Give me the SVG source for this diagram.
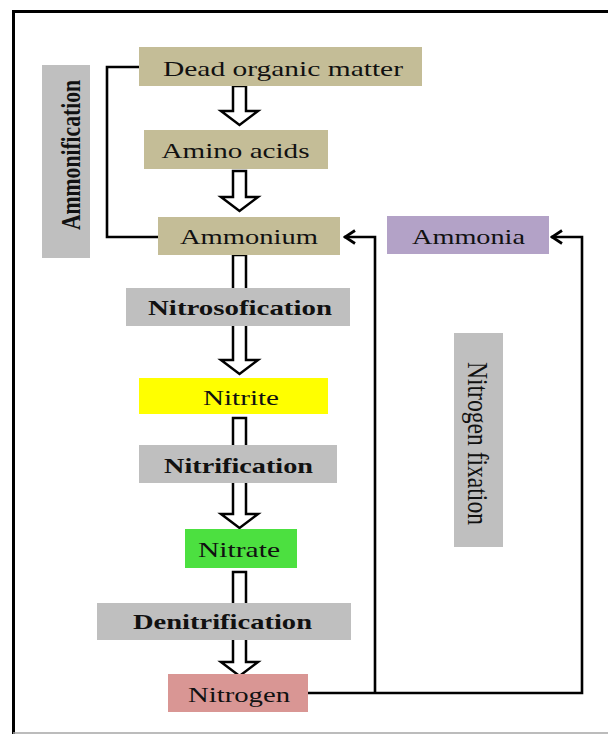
<svg xmlns="http://www.w3.org/2000/svg" width="608" height="734" viewBox="0 0 608 734">
<defs>
<style>
.lbl{font-family:"Liberation Serif","Times New Roman",serif;font-size:22px;fill:#111;text-anchor:middle}
.b{font-weight:bold;font-size:21px}
.tan{fill:#C4BD97}
.gray{fill:#BFBFBF}
.conn{fill:none;stroke:#000;stroke-width:2.6}
.big{fill:#fff;stroke:#000;stroke-width:2.5;stroke-linejoin:miter}
</style>
<marker id="chev" markerUnits="userSpaceOnUse" viewBox="0 0 14 16" refX="13" refY="8" markerWidth="14" markerHeight="16" orient="auto">
<path d="M2,1.5 L12,8 L2,14.5" fill="none" stroke="#000" stroke-width="2.8"/>
</marker>
</defs>
<rect width="608" height="734" fill="#fff"/>
<g id="frame">
<line x1="12" y1="11.5" x2="608" y2="11.5" stroke="#000" stroke-width="3"/>
<line x1="13.5" y1="10" x2="13.5" y2="734" stroke="#000" stroke-width="3"/>
<line x1="13" y1="733" x2="608" y2="733" stroke="#A6A6A6" stroke-width="1.5"/>
</g>
<g id="connectors">
<path class="conn" d="M139,67 H107 V237 H158"/>
<path class="conn" d="M308,693 H582 V237 H551" marker-end="url(#chev)"/>
<path class="conn" d="M375,693 V237 H344" marker-end="url(#chev)"/>
<path class="big" d="M233,86 H246 V111 H258 L239.5,125 L221,111 H233 Z"/>
<path class="big" d="M233,171 H246 V197 H258 L239.5,211 L221,197 H233 Z"/>
<path class="big" d="M233,255 H246 V360 H258 L239.5,374 L221,360 H233 Z"/>
<path class="big" d="M233,418 H246 V514 H258 L239.5,528 L221,514 H233 Z"/>
<path class="big" d="M233,572 H246 V662 H258 L239.5,676 L221,662 H233 Z"/>
</g>
<g id="dead-organic-matter">
<rect class="tan" x="139" y="47" width="283" height="39"/>
<text class="lbl" x="283" y="76" textLength="240" lengthAdjust="spacingAndGlyphs">Dead organic matter</text>
</g>
<g id="amino-acids">
<rect class="tan" x="144" y="130" width="184" height="39"/>
<text class="lbl" x="235.5" y="158" textLength="148" lengthAdjust="spacingAndGlyphs">Amino acids</text>
</g>
<g id="ammonium">
<rect class="tan" x="158" y="217" width="182" height="38"/>
<text class="lbl" x="249" y="244" textLength="138" lengthAdjust="spacingAndGlyphs">Ammonium</text>
</g>
<g id="ammonia">
<rect fill="#B3A2C7" x="387" y="216" width="162" height="38"/>
<text class="lbl" x="468.5" y="244" textLength="113" lengthAdjust="spacingAndGlyphs">Ammonia</text>
</g>
<g id="ammonification">
<rect class="gray" x="42" y="65" width="48" height="193"/>
<text class="lbl b" transform="translate(80,155) rotate(-90) scale(1,1.3)" x="0" y="0" textLength="150" lengthAdjust="spacingAndGlyphs">Ammonification</text>
</g>
<g id="nitrosofication">
<rect class="gray" x="126" y="288" width="224" height="38"/>
<text class="lbl b" x="240" y="315" textLength="184" lengthAdjust="spacingAndGlyphs">Nitrosofication</text>
</g>
<g id="nitrite">
<rect fill="#FFFF00" x="139" y="378" width="189" height="36"/>
<text class="lbl" x="241" y="405" textLength="76" lengthAdjust="spacingAndGlyphs">Nitrite</text>
</g>
<g id="nitrification">
<rect class="gray" x="139" y="445" width="198" height="38"/>
<text class="lbl b" x="238.5" y="473" textLength="149" lengthAdjust="spacingAndGlyphs">Nitrification</text>
</g>
<g id="nitrate">
<rect fill="#4CE040" x="185" y="529" width="112" height="39"/>
<text class="lbl" x="239" y="557" textLength="82" lengthAdjust="spacingAndGlyphs">Nitrate</text>
</g>
<g id="denitrification">
<rect class="gray" x="97" y="603" width="254" height="37"/>
<text class="lbl b" x="222.5" y="629" textLength="179" lengthAdjust="spacingAndGlyphs">Denitrification</text>
</g>
<g id="nitrogen">
<rect fill="#D99694" x="168" y="674" width="140" height="38"/>
<text class="lbl" x="239" y="702" textLength="102" lengthAdjust="spacingAndGlyphs">Nitrogen</text>
</g>
<g id="nitrogen-fixation">
<rect class="gray" x="454" y="333" width="49" height="214"/>
<text class="lbl" transform="translate(468,443.5) rotate(90) scale(1,1.3)" x="0" y="0" textLength="163" lengthAdjust="spacingAndGlyphs">Nitrogen fixation</text>
</g>
</svg>
